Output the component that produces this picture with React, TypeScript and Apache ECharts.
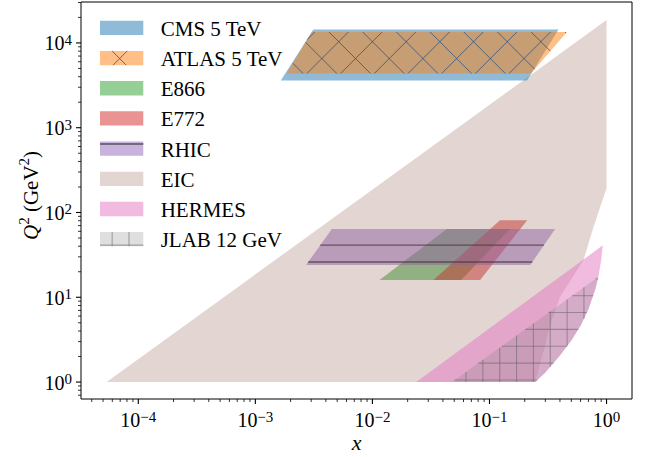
import React, { useEffect, useRef } from 'react';
import * as echarts from 'echarts';

type P = [number, number];

// axis extents (log axes)
const X_MIN = 3.24e-5;
const X_MAX = 1.65;
const Y_MIN = 0.631;
const Y_MAX = 30400;

const xMajorTicks = [1e-4, 1e-3, 1e-2, 1e-1, 1];
const yMajorTicks = [1, 10, 100, 1000, 10000];
const xDecades = [1e-5, 1e-4, 1e-3, 1e-2, 1e-1, 1];
const yDecades = [0.1, 1, 10, 100, 1000, 10000];
const minorMultipliers = [2, 3, 4, 5, 6, 7, 8, 9];

// regions: [x, Q^2] corner points
const cms5: P[] = [[1.65e-3, 3600], [3.13e-3, 14400], [0.389, 14400], [0.209, 3600]];
const atlas5: P[] = [[1.85e-3, 4356], [3.03e-3, 13456], [0.459, 13456], [0.226, 4356]];
const e866: P[] = [[0.0115, 16], [0.0432, 64], [0.150, 64], [0.0573, 16]];
const e772: P[] = [[0.0332, 16], [0.123, 81], [0.210, 81], [0.0832, 16]];
const rhic: P[] = [[2.71e-3, 24], [4.5e-3, 64], [0.364, 64], [0.223, 24]];
const eic: P[] = [[5.37e-5, 1], [1.0, 18600], [1.0, 194], [0.775, 68], [0.636, 27.6], [0.402, 10.2], [0.341, 5.4], [0.246, 1]];
const hermes: P[] = [[0.0237, 1], [0.93, 41], [0.9, 27.6], [0.855, 18], [0.8, 12.3], [0.7, 7.2], [0.6, 4.6], [0.5, 3.1], [0.4, 2.05], [0.3, 1.3], [0.246, 1]];
const jlab12: P[] = [[0.0478, 1], [0.855, 17.5], [0.8, 12.3], [0.7, 7.2], [0.6, 4.6], [0.5, 3.1], [0.4, 2.05], [0.3, 1.3], [0.246, 1]];

// y-axis title pieces: [text, kind]
const yTitleParts: [string, string][] = [['Q', 'italic'], ['2', 'sup'], [' (GeV', 'base'], ['2', 'sup'], [')', 'base']];

type Hatch = { nx: number; ny: number; c0: number; step: number };
const S2 = Math.SQRT1_2;
const HATCH_H: Hatch = { nx: 0, ny: 1, c0: 228.3, step: 16.85 };
const HATCH_V: Hatch = { nx: 1, ny: 0, c0: 466, step: 16.85 };
const HATCH_NE: Hatch = { nx: S2, ny: S2, c0: 346.7 * S2, step: 33.7 * S2 };
const HATCH_NW: Hatch = { nx: S2, ny: -S2, c0: 263.3 * S2, step: 33.7 * S2 };

type Region = {
  name: string;
  points: P[];
  fill: string;
  hatches: Hatch[];
  hatchColor: string;
  hatchWidth: number;
};

const regions: Region[] = [
  { name: 'CMS 5 TeV', points: cms5, fill: 'rgba(31,119,180,0.5)', hatches: [], hatchColor: '', hatchWidth: 0 },
  { name: 'ATLAS 5 TeV', points: atlas5, fill: 'rgba(255,127,14,0.5)', hatches: [HATCH_NE, HATCH_NW], hatchColor: 'rgba(40,80,125,0.75)', hatchWidth: 1.0 },
  { name: 'E866', points: e866, fill: 'rgba(44,160,44,0.5)', hatches: [], hatchColor: '', hatchWidth: 0 },
  { name: 'E772', points: e772, fill: 'rgba(214,39,40,0.5)', hatches: [], hatchColor: '', hatchWidth: 0 },
  { name: 'RHIC', points: rhic, fill: 'rgba(148,103,189,0.5)', hatches: [HATCH_H], hatchColor: 'rgba(50,50,50,0.75)', hatchWidth: 1.4 },
  { name: 'EIC', points: eic, fill: 'rgba(140,86,75,0.25)', hatches: [], hatchColor: '', hatchWidth: 0 },
  { name: 'HERMES', points: hermes, fill: 'rgba(227,119,194,0.5)', hatches: [], hatchColor: '', hatchWidth: 0 },
  { name: 'JLAB 12 GeV', points: jlab12, fill: 'rgba(127,127,127,0.25)', hatches: [HATCH_H, HATCH_V], hatchColor: 'rgba(110,100,110,0.55)', hatchWidth: 1.1 },
];

function hatchSegments(poly: P[], h: Hatch): [P, P][] {
  const proj = poly.map((p) => h.nx * p[0] + h.ny * p[1]);
  const lo = Math.min(...proj);
  const hi = Math.max(...proj);
  const k0 = Math.ceil((lo - h.c0) / h.step);
  const k1 = Math.floor((hi - h.c0) / h.step);
  const tx = -h.ny;
  const ty = h.nx;
  const segs: [P, P][] = [];
  for (let k = k0; k <= k1; k++) {
    const c = h.c0 + k * h.step;
    const hits: P[] = [];
    for (let i = 0; i < poly.length; i++) {
      const j = (i + 1) % poly.length;
      const fa = proj[i] - c;
      const fb = proj[j] - c;
      if ((fa < 0) !== (fb < 0)) {
        const t = fa / (fa - fb);
        const a = poly[i];
        const b = poly[j];
        hits.push([a[0] + t * (b[0] - a[0]), a[1] + t * (b[1] - a[1])]);
      }
    }
    hits.sort((p, q) => p[0] * tx + p[1] * ty - (q[0] * tx + q[1] * ty));
    for (let m = 0; m + 1 < hits.length; m += 2) segs.push([hits[m], hits[m + 1]]);
  }
  return segs;
}

const FONT = 'Liberation Serif';

function supLabel(v: number): string {
  const e = Math.round(Math.log10(v));
  const s = e < 0 ? '\u2212' + String(-e) : String(e);
  return `{b|10}{s|${s}}`;
}

const richTick = {
  b: { fontSize: 20, fontFamily: FONT, color: '#000', verticalAlign: 'bottom', lineHeight: 21 },
  s: { fontSize: 15, fontFamily: FONT, color: '#000', verticalAlign: 'top', lineHeight: 11 },
};

function buildTicks(decades: number[], majors: number[], lo: number, hi: number) {
  const out: { v: number; major: number }[] = [];
  majors.forEach((v) => out.push({ v, major: 1 }));
  decades.forEach((d) => minorMultipliers.forEach((m) => out.push({ v: d * m, major: 0 })));
  return out.filter((t) => t.v >= lo && t.v <= hi);
}

export default function App() {
  const ref = useRef<HTMLDivElement>(null);
  useEffect(() => {
    if (!ref.current) return;
    const chart = echarts.init(ref.current, undefined, { renderer: 'svg' });

    const regionSeries = regions.map((r) => ({
      type: 'custom',
      name: r.name,
      coordinateSystem: 'cartesian2d',
      encode: { x: 0, y: 1 },
      data: r.points,
      clip: true,
      silent: true,
      renderItem: (params: any, api: any) => {
        if (params.dataIndex !== 0) return null;
        const pts: P[] = r.points.map((p) => api.coord(p) as P);
        const children: any[] = [
          { type: 'polygon', shape: { points: pts }, style: { fill: r.fill, stroke: 'none' } },
        ];
        r.hatches.forEach((h) => {
          hatchSegments(pts, h).forEach(([a, b]) => {
            children.push({
              type: 'line',
              shape: { x1: a[0], y1: a[1], x2: b[0], y2: b[1] },
              style: { stroke: r.hatchColor, lineWidth: r.hatchWidth },
            });
          });
        });
        return { type: 'group', children };
      },
    }));

    const xTicks = buildTicks(xDecades, xMajorTicks, X_MIN, X_MAX);
    const yTicks = buildTicks(yDecades, yMajorTicks, Y_MIN, Y_MAX);

    const xTickSeries = {
      type: 'custom',
      name: 'x ticks',
      coordinateSystem: 'cartesian2d',
      encode: { x: 0, y: 1 },
      data: xTicks.map((t) => [t.v, Y_MIN, t.major]),
      clip: false,
      silent: true,
      renderItem: (params: any, api: any) => {
        const p = api.coord([api.value(0), Y_MIN]);
        const len = api.value(2) ? 5 : 3;
        return {
          type: 'line',
          shape: { x1: p[0], y1: p[1], x2: p[0], y2: p[1] + len },
          style: { stroke: '#000', lineWidth: api.value(2) ? 1.1 : 0.8 },
        };
      },
    };
    const yTickSeries = {
      type: 'custom',
      name: 'y ticks',
      coordinateSystem: 'cartesian2d',
      encode: { x: 0, y: 1 },
      data: yTicks.map((t) => [X_MIN, t.v, t.major]),
      clip: false,
      silent: true,
      renderItem: (params: any, api: any) => {
        const p = api.coord([X_MIN, api.value(1)]);
        const len = api.value(2) ? 5 : 3;
        return {
          type: 'line',
          shape: { x1: p[0], y1: p[1], x2: p[0] - len, y2: p[1] },
          style: { stroke: '#000', lineWidth: api.value(2) ? 1.1 : 0.8 },
        };
      },
    };

    // legend drawn as graphic
    const legendChildren: any[] = [];
    const LX = 100, LW = 43.3, LH = 14.3, LT = 20.7, LSTEP = 30.19, TX = 160.7;
    regions.forEach((r, i) => {
      const y = LT + i * LSTEP;
      legendChildren.push({ type: 'rect', shape: { x: LX, y, width: LW, height: LH }, style: { fill: r.fill } });
      const poly: P[] = [[LX, y], [LX + LW, y], [LX + LW, y + LH], [LX, y + LH]];
      r.hatches.forEach((h) => {
        hatchSegments(poly, h).forEach(([a, b]) => {
          legendChildren.push({
            type: 'line',
            shape: { x1: a[0], y1: a[1], x2: b[0], y2: b[1] },
            style: { stroke: r.hatchColor, lineWidth: r.hatchWidth },
          });
        });
      });
      legendChildren.push({
        type: 'text',
        x: TX,
        y: y + LH / 2 + 1,
        style: { text: r.name, fontSize: 21, fontFamily: FONT, fill: '#000', verticalAlign: 'middle', align: 'left' },
      });
    });

    // y-axis title (rotated), laid out piece by piece from the bottom up
    const titleChildren: any[] = [];
    let ty = 240;
    const TITLE_X = 31;
    yTitleParts.forEach(([txt, kind]) => {
      const size = kind === 'sup' ? 15 : 21;
      const fontStyle = kind === 'italic' ? 'italic' : 'normal';
      const fmt: any = (echarts as any).format;
      const w = fmt && fmt.getTextRect
        ? fmt.getTextRect(txt, `${fontStyle} ${size}px ${FONT}`).width
        : txt.length * size * 0.5;
      titleChildren.push({
        type: 'text',
        x: kind === 'sup' ? TITLE_X - 7 : TITLE_X,
        y: ty,
        rotation: Math.PI / 2,
        style: {
          text: txt,
          fontSize: size,
          fontFamily: FONT,
          fontStyle,
          fill: '#000',
          align: 'left',
          verticalAlign: 'middle',
        },
      });
      ty -= w;
    });

    chart.setOption({
      animation: false,
      backgroundColor: '#fff',
      textStyle: { fontFamily: FONT },
      grid: {
        left: 81, top: 2, width: 551, height: 397,
        outerBoundsMode: 'none',
        containLabel: false,
        show: true, borderColor: '#000', borderWidth: 1, backgroundColor: 'transparent',
      },
      xAxis: {
        type: 'log',
        logBase: 10,
        min: X_MIN,
        max: X_MAX,
        axisLine: { show: false },
        axisTick: { show: false },
        splitLine: { show: false },
        axisLabel: { margin: 10, showMinLabel: false, showMaxLabel: false, formatter: supLabel, rich: richTick, fontFamily: FONT },
        name: 'x',
        nameLocation: 'middle',
        nameGap: 32,
        nameMoveOverlap: false,
        nameTextStyle: { fontFamily: FONT, fontStyle: 'italic', fontSize: 22, color: '#000', lineHeight: 22 },
      },
      yAxis: {
        type: 'log',
        logBase: 10,
        min: Y_MIN,
        max: Y_MAX,
        axisLine: { show: false },
        axisTick: { show: false },
        splitLine: { show: false },
        axisLabel: { margin: 9, showMinLabel: false, showMaxLabel: false, formatter: supLabel, rich: richTick, fontFamily: FONT },
      },
      series: [...regionSeries, xTickSeries, yTickSeries],
      graphic: [{ type: 'group', children: [...legendChildren, ...titleChildren] }],
    });
    return () => chart.dispose();
  }, []);
  return <div ref={ref} style={{ position: 'absolute', left: 0, top: 0, width: 646, height: 457 }} />;
}
